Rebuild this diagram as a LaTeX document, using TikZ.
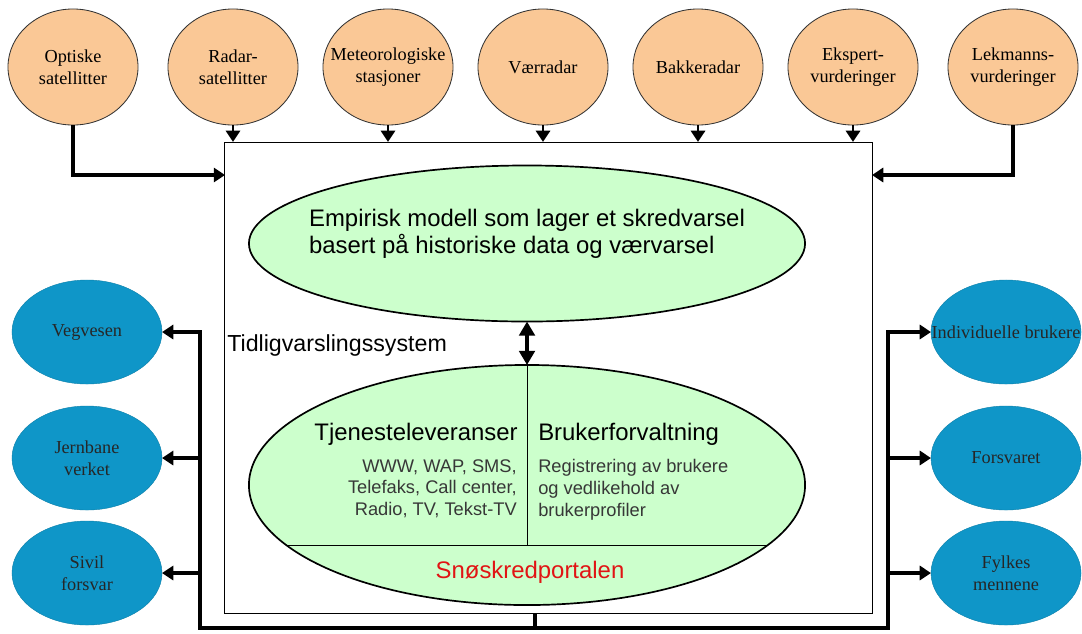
\documentclass[tikz,border=0pt]{standalone}
\usepackage{fontspec}
\setmainfont{Liberation Serif}
\setsansfont{Liberation Sans}
\usetikzlibrary{shapes.geometric,arrows.meta}

\definecolor{kildefarge}{RGB}{250,200,150}
\definecolor{modellfarge}{RGB}{204,255,204}
\definecolor{brukerfarge}{RGB}{15,150,200}
\definecolor{graa}{RGB}{55,55,55}
\definecolor{portalrod}{RGB}{225,20,20}

\begin{document}
\begin{tikzpicture}[x=0.025cm,y=-0.025cm,
	tekst/.style={align=center,inner sep=0pt,font=\fontsize{13}{16}\selectfont},
	kilde/.style={ellipse,draw=black!80,line width=0.6pt,fill=kildefarge,
		minimum width=3.25cm,minimum height=2.9cm,outer sep=0pt,
		label={[tekst]center:#1}},
	bruker/.style={ellipse,draw=brukerfarge!85!black,line width=0.3pt,fill=brukerfarge,
		minimum width=3.75cm,minimum height=2.6cm,outer sep=0pt,
		label={[tekst,text=black!85]center:#1}},
	modell/.style={ellipse,draw,line width=1.2pt,fill=modellfarge,outer sep=0pt},
	inn/.style={line width=2pt,-{Triangle[width=10pt,length=8pt]}},
	tykk/.style={line width=2.8pt,-{Triangle[width=10pt,length=8pt]}},
	linje/.style={line width=2.8pt},
	dobbel/.style={line width=2.4pt,{Triangle[width=11pt,length=10pt]}-{Triangle[width=11pt,length=10pt]}},
	stor/.style={font=\sffamily\fontsize{17}{19.5}\selectfont,inner sep=0pt},
	liten/.style={font=\sffamily\fontsize{13}{15.6}\selectfont,text=graa,inner sep=0pt}]
	\useasboundingbox (0,0) rectangle (1082,633);

	% kilder
	\node[kilde={Optiske\\satellitter}] (opt) at (73,67) {};
	\node[kilde={Radar-\\satellitter}] (radar) at (233,67) {};
	\node[kilde={Meteorologiske\\stasjoner}] (met) at (388,67) {};
	\node[kilde={V\ae rradar}] (vaer) at (543,67) {};
	\node[kilde={Bakkeradar}] (bakke) at (698,67) {};
	\node[kilde={Ekspert-\\vurderinger}] (ekspert) at (853,67) {};
	\node[kilde={Lekmanns-\\vurderinger}] (lekmann) at (1013,67) {};

	% systemboksen
	\node[draw,line width=0.6pt,minimum width=16.175cm,minimum height=11.775cm,outer sep=0pt] (tvs) at (548.5,377.5) {};
	\node[font=\sffamily\fontsize{16.5}{19}\selectfont,inner sep=0pt,anchor=west] (tidlig) at (227,345) {Tidligvarslingssystem};

	\coordinate (innV) at (225,175);
	\coordinate (innH) at (872,175);
	\draw[tykk] (opt.south) |- (innV);
	\draw[tykk] (lekmann.south) |- (innH);
	\draw[inn] (radar.south) -- (radar.south |- tvs.north);
	\draw[inn] (met.south) -- (met.south |- tvs.north);
	\draw[inn] (vaer.south) -- (vaer.south |- tvs.north);
	\draw[inn] (bakke.south) -- (bakke.south |- tvs.north);
	\draw[inn] (ekspert.south) -- (ekspert.south |- tvs.north);

	% empirisk modell
	\node[modell,minimum width=13.9cm,minimum height=3.9cm] (emp) at (527,243.5) {};
	\node[stor,align=left] (empT) at (527,234) {Empirisk modell som lager et skredvarsel\\basert p\aa{} historiske data og v\ae rvarsel};

	% portalen
	\node[modell,minimum width=13.9cm,minimum height=6.0cm] (portal) at (527,485) {};
	\begin{scope}
		\clip (portal.center) ellipse [x radius=278,y radius=120];
		\draw[line width=0.6pt] (portal.north) -- (527,545);
		\draw[line width=0.6pt] (200,545) -- (860,545);
	\end{scope}
	\draw[dobbel] (emp.south) -- (portal.north);

	\node[stor,anchor=base east] (tjen) at (518,440) {Tjenesteleveranser};
	\node[stor,anchor=base west] (bforv) at (538,440) {Brukerforvaltning};
	\node[liten,align=right,anchor=north east] (tjenT) at (517,459) {WWW, WAP, SMS,\\Telefaks, Call center,\\Radio, TV, Tekst-TV};
	\node[liten,align=left,anchor=north west] (bforvT) at (538,459) {Registrering av brukere\\og vedlikehold av\\brukerprofiler};
	\node[stor,text=portalrod] (sno) at (530,572) {Sn\o skredportalen};

	% brukere
	\node[bruker={Vegvesen}] (veg) at (87,332) {};
	\node[bruker={Jernbane\\verket}] (jern) at (87,458) {};
	\node[bruker={Sivil\\forsvar}] (sivil) at (87,573) {};
	\node[bruker={Individuelle brukere}] (indiv) at (1006,332) {};
	\node[bruker={Forsvaret}] (forsv) at (1006,458) {};
	\node[bruker={Fylkes\\mennene}] (fylke) at (1006,573) {};

	\coordinate (ut) at (535,628);
	\coordinate (utV) at (200,628);
	\coordinate (utH) at (888,628);
	\draw[linje] (ut |- tvs.south) -- (ut);
	\draw[linje,line cap=rect] (utV) -- (utH);
	\draw[tykk] (utV) |- (veg.east);
	\draw[tykk] (utV |- jern.east) -- (jern.east);
	\draw[tykk] (utV |- sivil.east) -- (sivil.east);
	\draw[tykk] (utH) |- (indiv.west);
	\draw[tykk] (utH |- forsv.west) -- (forsv.west);
	\draw[tykk] (utH |- fylke.west) -- (fylke.west);
\end{tikzpicture}
\end{document}
